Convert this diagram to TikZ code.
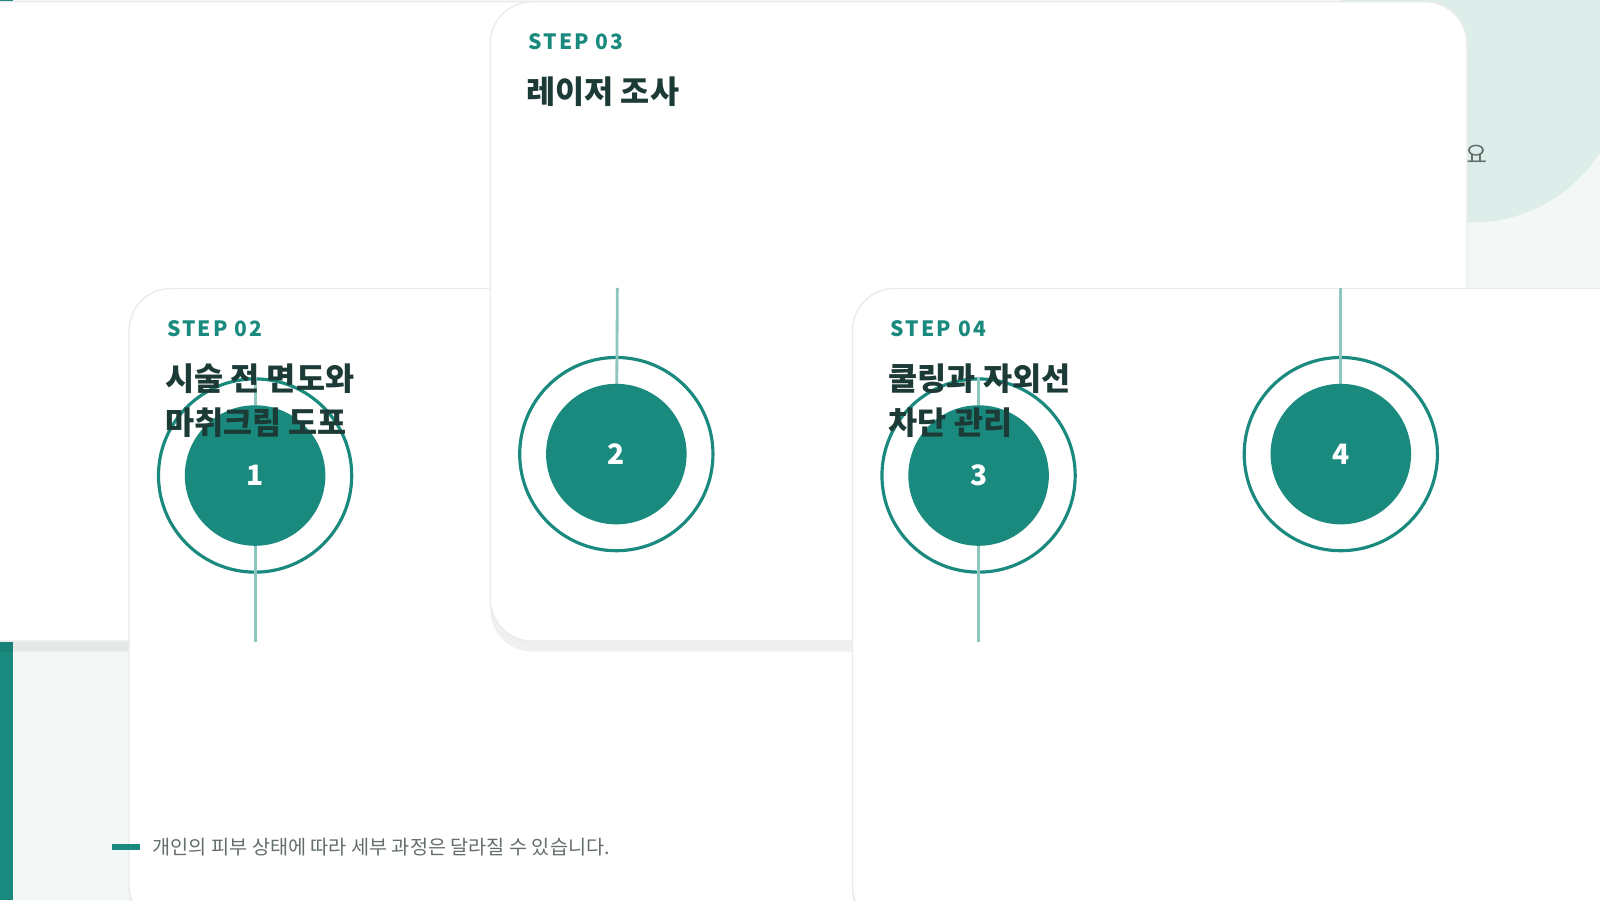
\documentclass[tikz,border=0pt]{standalone}
\usepackage{fontspec}
\setmainfont{Noto Sans CJK KR}
\newfontfamily\kr{Noto Sans CJK KR}
\newfontfamily\spaced[LetterSpace=18]{Noto Sans CJK KR}
\newfontfamily\stepfont[LetterSpace=10]{Noto Sans CJK KR}
\usetikzlibrary{positioning,shadows,arrows.meta,calc}
\definecolor{teal}{RGB}{26,138,126}
\definecolor{tealline}{RGB}{168,213,207}
\definecolor{dark}{RGB}{29,59,54}
\definecolor{grey}{RGB}{100,110,108}
\definecolor{bg}{RGB}{243,248,246}
\definecolor{blob}{RGB}{221,238,234}

\tikzset{
	card/.style={draw=black!8, fill=white, rounded corners=12, minimum width=278, minimum height=182,
		drop shadow={shadow xshift=0pt, shadow yshift=-3pt, opacity=0.06, fill=black}},
	steplab/.style={anchor=west, text=teal, font=\stepfont\bfseries\fontsize{6}{7}\selectfont},
	steptxt/.style={anchor=north west, text=dark, align=left, font=\kr\bfseries\fontsize{9}{12.5}\selectfont},
	ring/.style={circle, draw=teal, line width=0.9pt, fill=white, minimum size=55},
	dot/.style={circle, fill=teal, text=white, minimum size=40, inner sep=0pt, font=\kr\bfseries\fontsize{8}{8}\selectfont},
	link/.style={draw=tealline!80!teal, line width=0.8pt}
}

\begin{document}
\begin{tikzpicture}[x=0.010204cm, y=-0.010204cm]
	\useasboundingbox (0,0) rectangle (1568,882);
	\fill[bg] (0,0) rectangle (1568,882);
	\begin{scope}
		\clip (0,0) rectangle (1568,882);
		\fill[blob] (1443,70) circle (148);
	\end{scope}
	\fill[teal] (0,0) rectangle (13,882);

	% heading
	\node[anchor=base west, inner sep=0, text=teal, font=\spaced\bfseries\fontsize{7.6}{9}\selectfont] (kicker) at (110,86) {BEARD LASER CARE PROCESS};
	\node[anchor=base west, inner sep=0, text=dark, font=\kr\bfseries\fontsize{19}{22}\selectfont] (title) at (108,160) {수염 레이저 제모 진행 절차};
	\node[anchor=base east, inner sep=0, text=grey, font=\kr\fontsize{6.8}{8}\selectfont] (sub) at (1458,160) {상담부터 사후 관리까지, 4단계로 확인하세요};

	% timeline
	\coordinate (tl0) at (194,468);
	\coordinate (tl1) at (1378,468);
	\draw[tealline, line width=1.6pt] (tl0) -- (tl1);
	\draw[teal, line width=1.3pt, line cap=round, line join=round] ($(tl1)+(-6,-11)$) -- (tl1) -- ($(tl1)+(-6,11)$);

	% cards
	\node[card] (c1) at (250,315) {};
	\node[card] (c2) at (605,596) {};
	\node[card] (c3) at (959,315) {};
	\node[card] (c4) at (1314,596) {};

	\node[ring] (r1) at (250,466) {};
	\node[ring] (r2) at (604,445) {};
	\node[ring] (r3) at (959,466) {};
	\node[ring] (r4) at (1314,445) {};

	\draw[link] (c1.south) -- (r1.north);
	\draw[link] (c2.north) -- (r2.center);
	\draw[link] (c3.south) -- (r3.north);
	\draw[link] (c4.north) -- (r4.center);

	\foreach \i in {1,...,4}
		\node[dot] (n\i) at (r\i) {\i};

	\node[steplab] (s1) at ($(c1.north west)+(26,40)$) {STEP 01};
	\node[steptxt] (t1) at ($(c1.north west)+(24,62)$) {상담과\\피부 상태 확인};
	\node[steplab] (s2) at ($(c2.north west)+(26,40)$) {STEP 02};
	\node[steptxt] (t2) at ($(c2.north west)+(24,62)$) {시술 전 면도와\\마취크림 도포};
	\node[steplab] (s3) at ($(c3.north west)+(26,40)$) {STEP 03};
	\node[steptxt] (t3) at ($(c3.north west)+(24,62)$) {레이저 조사};
	\node[steplab] (s4) at ($(c4.north west)+(26,40)$) {STEP 04};
	\node[steptxt] (t4) at ($(c4.north west)+(24,62)$) {쿨링과 자외선\\차단 관리};

	% footer
	\draw[teal, line width=1.5pt] (110,830) -- (137,830);
	\node[anchor=west, inner sep=0, text=grey, font=\kr\fontsize{5.6}{7}\selectfont] (note) at (149,830) {개인의 피부 상태에 따라 세부 과정은 달라질 수 있습니다.};
\end{tikzpicture}
\end{document}
